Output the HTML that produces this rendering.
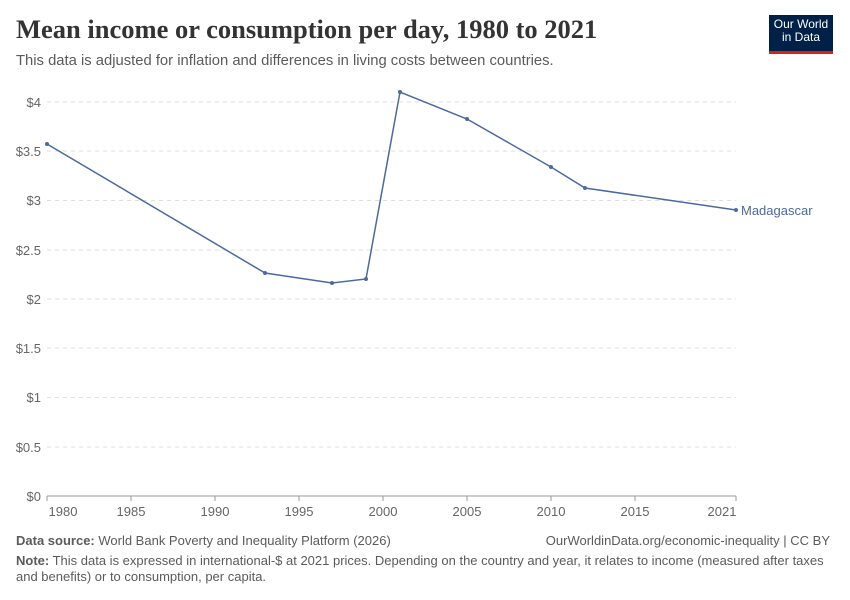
<!DOCTYPE html>
<html><head><meta charset="utf-8"><style>
body{margin:0;width:850px;height:600px;background:#fff;font-family:"Liberation Sans",sans-serif;position:relative;overflow:hidden}
.t{position:absolute;white-space:nowrap}
</style></head><body>
<div class="t" style="left:16px;top:14px;font-family:'Liberation Serif',serif;font-size:26.5px;font-weight:bold;color:#333">Mean income or consumption per day, 1980 to 2021</div>
<div class="t" style="left:16px;top:53px;font-size:14.8px;color:#5b5b5b">This data is adjusted for inflation and differences in living costs between countries.</div>
<div style="position:absolute;left:769px;top:15px;width:64px;height:33px;background:#002147;border-bottom:3px solid #ce261e;color:#fff;font-size:12px;line-height:13px;text-align:center;padding-top:3px;box-sizing:content-box">Our World<br>in Data</div>
<svg width="850" height="600" style="position:absolute;left:0;top:0" font-family="Liberation Sans, sans-serif">
<g stroke="#ddd" stroke-dasharray="4,4">
<line x1="47" x2="736" y1="102" y2="102"/><line x1="47" x2="736" y1="151" y2="151"/><line x1="47" x2="736" y1="200.5" y2="200.5"/><line x1="47" x2="736" y1="250" y2="250"/><line x1="47" x2="736" y1="299" y2="299"/><line x1="47" x2="736" y1="348" y2="348"/><line x1="47" x2="736" y1="397.5" y2="397.5"/><line x1="47" x2="736" y1="447" y2="447"/>
</g>
<line x1="47" x2="736" y1="496" y2="496" stroke="#999"/>
<g stroke="#999"><line x1="47" x2="47" y1="496" y2="501"/><line x1="131" x2="131" y1="496" y2="501"/><line x1="215" x2="215" y1="496" y2="501"/><line x1="299" x2="299" y1="496" y2="501"/><line x1="383" x2="383" y1="496" y2="501"/><line x1="467" x2="467" y1="496" y2="501"/><line x1="551" x2="551" y1="496" y2="501"/><line x1="635" x2="635" y1="496" y2="501"/><line x1="736" x2="736" y1="496" y2="501"/></g>
<g fill="#666" font-size="13" text-anchor="end">
<text x="41" y="107">$4</text><text x="41" y="156">$3.5</text><text x="41" y="205">$3</text><text x="41" y="255">$2.5</text><text x="41" y="304">$2</text><text x="41" y="353">$1.5</text><text x="41" y="402">$1</text><text x="41" y="452">$0.5</text><text x="41" y="501">$0</text>
</g>
<g fill="#666" font-size="13" text-anchor="middle">
<text x="63" y="516">1980</text><text x="131" y="516">1985</text><text x="215" y="516">1990</text><text x="299" y="516">1995</text><text x="383" y="516">2000</text><text x="467" y="516">2005</text><text x="551" y="516">2010</text><text x="635" y="516">2015</text><text x="722" y="516">2021</text>
</g>
<polyline fill="none" stroke="#4c6a9c" stroke-width="1.5" points="47,144 265,273 332,283 366,279 400,92 467,119 551,167 585,188 736,210"/>
<g fill="#4c6a9c"><circle cx="47" cy="144" r="2"/><circle cx="265" cy="273" r="2"/><circle cx="332" cy="283" r="2"/><circle cx="366" cy="279" r="2"/><circle cx="400" cy="92" r="2"/><circle cx="467" cy="119" r="2"/><circle cx="551" cy="167" r="2"/><circle cx="585" cy="188" r="2"/><circle cx="736" cy="210" r="2"/></g>
<text x="741" y="215" fill="#4c6a9c" font-size="13">Madagascar</text>
</svg>
<div class="t" style="left:16px;top:533px;font-size:13px;color:#5b5b5b"><b>Data source:</b> World Bank Poverty and Inequality Platform (2026)</div>
<div class="t" style="right:20px;top:533px;font-size:13px;color:#5b5b5b">OurWorldinData.org/economic-inequality | CC BY</div>
<div style="position:absolute;left:16px;top:553px;width:810px;font-size:13px;line-height:16px;color:#5b5b5b"><b>Note:</b> This data is expressed in international-$ at 2021 prices. Depending on the country and year, it relates to income (measured after taxes and benefits) or to consumption, per capita.</div>
</body></html>
